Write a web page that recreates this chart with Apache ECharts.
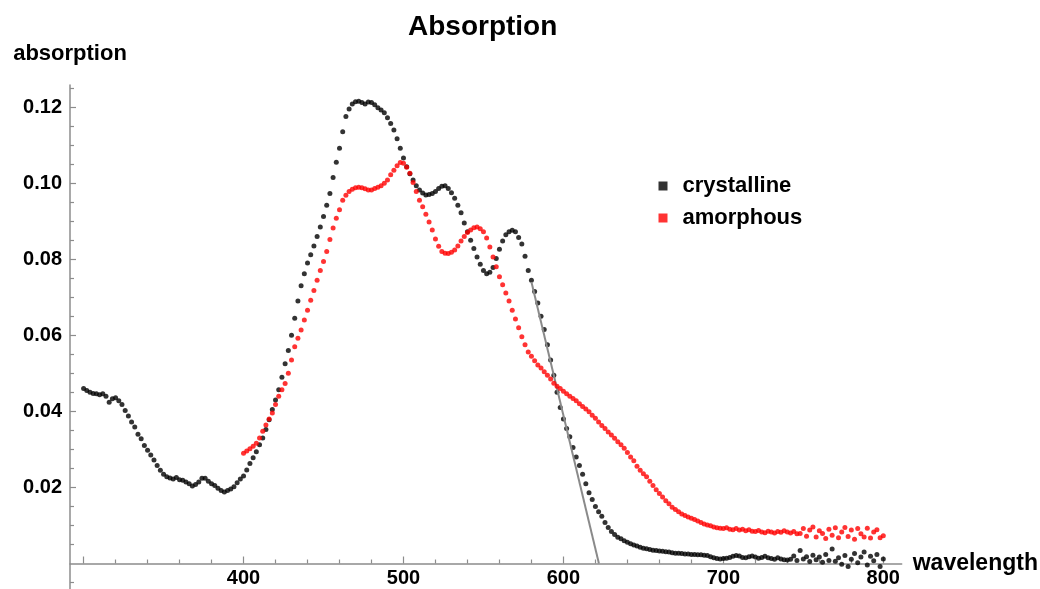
<!DOCTYPE html>
<html>
<head>
<meta charset="utf-8">
<title>Absorption</title>
<script src="https://cdn.jsdelivr.net/npm/echarts@6/dist/echarts.min.js"></script>
<style>
  html, body { margin: 0; padding: 0; background: #fff; }
  #chart { width: 1040px; height: 589px; }
</style>
</head>
<body>
<div id="chart"></div>
<script>
// Measured absorption spectra, sampled every 2 nm
const wavelengthStep = 2;

const crystallineStart = 300;
const crystalline = [
  0.0460, 0.0455, 0.0450, 0.0447, 0.0446, 0.0444, 0.0446, 0.0440, 0.0424, 0.0433,
  0.0436, 0.0428, 0.0418, 0.0402, 0.0388, 0.0372, 0.0359, 0.0340, 0.0328, 0.0310,
  0.0298, 0.0285, 0.0272, 0.0258, 0.0245, 0.0235, 0.0228, 0.0225, 0.0222, 0.0226,
  0.0220, 0.0219, 0.0214, 0.0210, 0.0204, 0.0208, 0.0214, 0.0224, 0.0224, 0.0216,
  0.0210, 0.0205, 0.0198, 0.0192, 0.0188, 0.0192, 0.0196, 0.0202, 0.0212, 0.0222,
  0.0230, 0.0246, 0.0263, 0.0278, 0.0294, 0.0312, 0.0330, 0.0352, 0.0378, 0.0405,
  0.0430, 0.0457, 0.0490, 0.0525, 0.0560, 0.0600, 0.0645, 0.0690, 0.0730, 0.0762,
  0.0790, 0.0812, 0.0835, 0.0860, 0.0885, 0.0912, 0.0942, 0.0973, 0.1015, 0.1055,
  0.1092, 0.1135, 0.1175, 0.1195, 0.1208, 0.1214, 0.1215, 0.1212, 0.1208, 0.1213,
  0.1212, 0.1206, 0.1198, 0.1192, 0.1185, 0.1172, 0.1157, 0.1140, 0.1117, 0.1092,
  0.1066, 0.1043, 0.1025, 0.1008, 0.0993, 0.0982, 0.0974, 0.0969, 0.0970, 0.0973,
  0.0978, 0.0986, 0.0992, 0.0993, 0.0986, 0.0975, 0.0960, 0.0942, 0.0922, 0.0895,
  0.0872, 0.0850, 0.0828, 0.0806, 0.0787, 0.0770, 0.0762, 0.0766, 0.0778, 0.0802,
  0.0826, 0.0848, 0.0864, 0.0872, 0.0876, 0.0872, 0.0857, 0.0840, 0.0808, 0.0770,
  0.0745, 0.0715, 0.0685, 0.0650, 0.0615, 0.0575, 0.0535, 0.0495, 0.0450, 0.0410,
  0.0380, 0.0355, 0.0333, 0.0305, 0.0280, 0.0258, 0.0235, 0.0210, 0.0186, 0.0168,
  0.0150, 0.0136, 0.0124, 0.0108, 0.0095, 0.0084, 0.0076, 0.0069, 0.0065, 0.0060,
  0.0056, 0.0052, 0.0049, 0.0046, 0.0043, 0.0040, 0.0039, 0.0037, 0.0035, 0.0034,
  0.0033, 0.0032, 0.0031, 0.0030, 0.0028, 0.0027, 0.0027, 0.0026, 0.0025, 0.0025,
  0.0024, 0.0024, 0.0023, 0.0023, 0.0022, 0.0021, 0.0018, 0.0015, 0.0013, 0.0012,
  0.0013, 0.0014, 0.0016, 0.0019, 0.0021, 0.0020, 0.0016, 0.0015, 0.0018, 0.0020,
  0.0017, 0.0014, 0.0016, 0.0019, 0.0015, 0.0013, 0.0011, 0.0015, 0.0012, 0.0010,
  0.0009, 0.0011, 0.0020, 0.0008, 0.0034, 0.0012, 0.0018, 0.0005, 0.0022, 0.0010,
  0.0017, 0.0003, 0.0024, 0.0008, 0.0038, 0.0006, 0.0015, -0.0002, 0.0021, -0.0008,
  0.0011, 0.0026, 0.0002, 0.0017, 0.0030, -0.0004, 0.0019, 0.0007, 0.0024, -0.0008,
  0.0012
];

const amorphousStart = 400;
const amorphous = [
  0.0290, 0.0296, 0.0302, 0.0308, 0.0316, 0.0330, 0.0348, 0.0364, 0.0380, 0.0396,
  0.0418, 0.0440, 0.0457, 0.0473, 0.0500, 0.0535, 0.0570, 0.0592, 0.0614, 0.0640,
  0.0666, 0.0692, 0.0718, 0.0745, 0.0770, 0.0794, 0.0820, 0.0852, 0.0882, 0.0908,
  0.0930, 0.0955, 0.0968, 0.0978, 0.0984, 0.0988, 0.0989, 0.0988, 0.0985, 0.0982,
  0.0982, 0.0986, 0.0989, 0.0993, 0.1000, 0.1008, 0.1022, 0.1034, 0.1046, 0.1054,
  0.1052, 0.1042, 0.1026, 0.1002, 0.0978, 0.0955, 0.0938, 0.0918, 0.0898, 0.0877,
  0.0853, 0.0834, 0.0820, 0.0816, 0.0815, 0.0818, 0.0824, 0.0835, 0.0848, 0.0860,
  0.0870, 0.0877, 0.0883, 0.0885, 0.0880, 0.0872, 0.0856, 0.0832, 0.0806, 0.0780,
  0.0754, 0.0733, 0.0711, 0.0690, 0.0666, 0.0643, 0.0620, 0.0596, 0.0575, 0.0556,
  0.0545, 0.0533, 0.0522, 0.0514, 0.0504, 0.0495, 0.0485, 0.0474, 0.0466, 0.0460,
  0.0453, 0.0446, 0.0440, 0.0434, 0.0428, 0.0420, 0.0413, 0.0406, 0.0399, 0.0390,
  0.0382, 0.0372, 0.0363, 0.0355, 0.0346, 0.0338, 0.0329, 0.0320, 0.0312, 0.0303,
  0.0292, 0.0280, 0.0270, 0.0256, 0.0245, 0.0236, 0.0228, 0.0216, 0.0205, 0.0194,
  0.0184, 0.0175, 0.0165, 0.0157, 0.0148, 0.0142, 0.0136, 0.0130, 0.0126, 0.0122,
  0.0119, 0.0116, 0.0112, 0.0108, 0.0104, 0.0101, 0.0099, 0.0096, 0.0094, 0.0093,
  0.0092, 0.0094, 0.0090, 0.0089, 0.0092, 0.0088, 0.0090, 0.0086, 0.0089, 0.0085,
  0.0084, 0.0087, 0.0083, 0.0081, 0.0085, 0.0083, 0.0080, 0.0084, 0.0082, 0.0086,
  0.0083, 0.0080, 0.0084, 0.0078, 0.0079, 0.0092, 0.0072, 0.0088, 0.0096, 0.0070,
  0.0086, 0.0079, 0.0066, 0.0090, 0.0074, 0.0094, 0.0068, 0.0083, 0.0095, 0.0071,
  0.0088, 0.0064, 0.0092, 0.0078, 0.0070, 0.0093, 0.0067, 0.0083, 0.0089, 0.0068,
  0.0073
];

// Tangent to the falling edge of the crystalline band: [wavelength, absorption]
const tangentLine = [[580.0, 0.0740], [622.2, 0.0]];

// Axis ranges and tick positions
const xRange = [291.5, 811.5];
const yRange = [-0.0067, 0.1258];
const xMajorTicks = [300, 400, 500, 600, 700, 800];
const xTickLabels = [400, 500, 600, 700, 800];
const xMinorTicks = [320, 340, 360, 380, 420, 440, 460, 480, 520, 540, 560, 580,
                     620, 640, 660, 680, 720, 740, 760, 780];
const yTickLabels = [0.02, 0.04, 0.06, 0.08, 0.10, 0.12];
const yMinorTicks = [-0.005, 0.005, 0.010, 0.015, 0.025, 0.030, 0.035, 0.045, 0.050,
                     0.055, 0.065, 0.070, 0.075, 0.085, 0.090, 0.095, 0.105, 0.110,
                     0.115, 0.125];

const toPoints = (start, values) => values.map((v, i) => [start + i * wavelengthStep, v]);

const FONT = "'Liberation Sans', Arial, sans-serif";
const AXIS_GRAY = '#8c8c8c';
const DOT_SIZE = 5;

// Layout of the plotting area
const GRID = { left: 70, right: 138.3, top: 85, bottom: 0 };
const PLOT_HEIGHT = 589 - GRID.top - GRID.bottom;
// distance from the bottom of the plot to the y = 0 line, where the wavelength labels sit
const zeroLineLift = PLOT_HEIGHT * (0 - yRange[0]) / (yRange[1] - yRange[0]);

const chart = echarts.init(document.getElementById('chart'), null, { renderer: 'canvas' });

chart.setOption({
  animation: false,
  backgroundColor: '#ffffff',
  textStyle: { fontFamily: FONT },
  title: {
    text: 'Absorption',
    left: 403,
    top: 8,
    textStyle: { fontFamily: FONT, fontSize: 28, fontWeight: 'bold', color: '#000' }
  },
  legend: {
    orient: 'vertical',
    left: 653.5,
    top: 170,
    icon: 'rect',
    itemWidth: 9,
    itemHeight: 9,
    itemGap: 10,
    data: ['crystalline', 'amorphous'],
    textStyle: { fontFamily: FONT, fontSize: 22, fontWeight: 'bold', color: '#000', padding: [0, 0, 0, 10] }
  },
  grid: Object.assign({ containLabel: false, outerBoundsMode: 'none' }, GRID),
  xAxis: [
    {
      // axis line at y = 0 with major ticks and the axis name
      type: 'value',
      min: xRange[0],
      max: xRange[1],
      position: 'bottom',
      name: 'wavelength',
      nameLocation: 'end',
      nameGap: 11,
      nameTextStyle: { fontFamily: FONT, fontSize: 23, fontWeight: 'bold', color: '#000' },
      axisLine: { show: true, onZero: true, onZeroAxisIndex: 0, lineStyle: { color: AXIS_GRAY, width: 1.5 } },
      axisTick: { show: true, inside: true, length: 7, customValues: xMajorTicks, lineStyle: { color: AXIS_GRAY, width: 1.2 } },
      axisLabel: { show: false },
      splitLine: { show: false }
    },
    {
      // minor ticks every 20 nm
      type: 'value',
      min: xRange[0],
      max: xRange[1],
      position: 'bottom',
      axisLine: { show: false, onZero: true, onZeroAxisIndex: 1 },
      axisTick: { show: true, inside: true, length: 4, customValues: xMinorTicks, lineStyle: { color: AXIS_GRAY, width: 1.2 } },
      axisLabel: { show: false },
      splitLine: { show: false }
    },
    {
      // wavelength tick labels just under the y = 0 line
      type: 'value',
      min: xRange[0],
      max: xRange[1],
      position: 'bottom',
      offset: -zeroLineLift,
      axisLine: { show: false, onZero: false },
      axisTick: { show: false },
      axisLabel: {
        show: true, customValues: xTickLabels, margin: 5,
        fontFamily: FONT, fontSize: 20, fontWeight: 'bold', color: '#000'
      },
      splitLine: { show: false }
    }
  ],
  yAxis: [
    {
      type: 'value',
      min: yRange[0],
      max: yRange[1],
      position: 'left',
      name: 'absorption',
      nameLocation: 'end',
      nameGap: 20,
      nameTextStyle: { fontFamily: FONT, fontSize: 22, fontWeight: 'bold', color: '#000', align: 'center' },
      axisLine: { show: true, onZero: false, lineStyle: { color: AXIS_GRAY, width: 1.5 } },
      axisTick: { show: true, inside: true, length: 6, customValues: yTickLabels, lineStyle: { color: AXIS_GRAY, width: 1.2 } },
      axisLabel: {
        show: true, customValues: yTickLabels, margin: 8,
        formatter: v => v.toFixed(2),
        fontFamily: FONT, fontSize: 20, fontWeight: 'bold', color: '#000'
      },
      splitLine: { show: false }
    },
    {
      type: 'value',
      min: yRange[0],
      max: yRange[1],
      position: 'left',
      axisLine: { show: false, onZero: false },
      axisTick: { show: true, inside: true, length: 4, customValues: yMinorTicks, lineStyle: { color: AXIS_GRAY, width: 1.2 } },
      axisLabel: { show: false },
      splitLine: { show: false }
    }
  ],
  series: [
    {
      name: 'crystalline',
      type: 'scatter',
      xAxisIndex: 0,
      yAxisIndex: 0,
      symbol: 'circle',
      symbolSize: DOT_SIZE,
      itemStyle: { color: '#000000' },
      data: toPoints(crystallineStart, crystalline),
      z: 3
    },
    {
      name: 'tangent',
      type: 'line',
      xAxisIndex: 0,
      yAxisIndex: 0,
      symbol: 'none',
      lineStyle: { color: '#8a8a8a', width: 2 },
      data: tangentLine,
      z: 4
    },
    {
      name: 'amorphous',
      type: 'scatter',
      xAxisIndex: 0,
      yAxisIndex: 0,
      symbol: 'circle',
      symbolSize: DOT_SIZE,
      itemStyle: { color: '#ff0000' },
      data: toPoints(amorphousStart, amorphous),
      z: 5
    }
  ]
});
</script>
</body>
</html>
